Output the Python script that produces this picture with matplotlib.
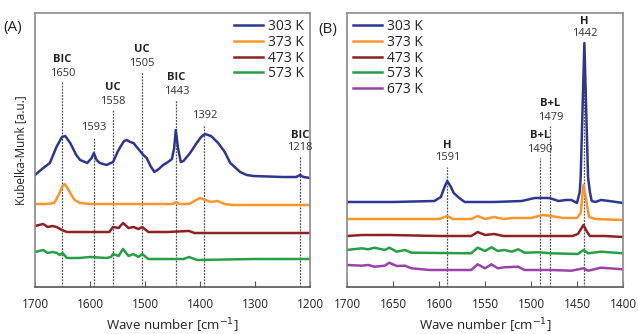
import matplotlib.pyplot as plt

plt.rcParams['font.family'] = ['Open Sans', 'DejaVu Sans']

# ---- panel A: spectra (wave number, Kubelka-Munk, offset per temperature)
a303_x = [1700, 1685, 1673, 1661, 1651, 1645, 1636, 1625, 1618, 1605, 1597, 1593, 1588,
          1582, 1570, 1558, 1550, 1545, 1538, 1533, 1527, 1521, 1512, 1503, 1497, 1490,
          1483, 1475, 1467, 1458, 1451, 1447, 1444, 1440, 1435, 1430, 1418, 1406, 1398,
          1391, 1380, 1367, 1355, 1345, 1335, 1327, 1315, 1303, 1250, 1225, 1218, 1212, 1200]
a303_y = [112, 119, 124, 140, 150, 151, 144, 132, 127, 124, 129, 134, 127,
          124, 122, 125, 135, 140, 146, 147, 145, 144, 138, 132, 129, 121,
          115, 118, 122, 125, 128, 139, 157, 139, 125, 126, 134, 144, 150,
          153, 151, 144, 135, 124, 119, 115, 112, 111, 110, 110, 112, 110, 109]

a373_x = [1700, 1680, 1665, 1657, 1650, 1646, 1641, 1636, 1628, 1618, 1600, 1560, 1500,
          1450, 1443, 1437, 1420, 1410, 1400, 1390, 1380, 1368, 1355, 1340, 1300, 1200]
a373_y = [83, 83, 84, 92, 101, 103, 99, 94, 87, 84, 83, 83, 83,
          83, 85, 83, 83, 86, 89, 87, 85, 86, 83, 82, 82, 82]

a473_x = [1700, 1685, 1677, 1668, 1661, 1651, 1642, 1600, 1565, 1558, 1548, 1540, 1530,
          1521, 1512, 1505, 1494, 1460, 1420, 1410, 1200]
a473_y = [61, 63, 60, 61, 60, 57, 55, 55, 55, 60, 59, 64, 59,
          60, 58, 60, 55, 55, 56, 54, 54]

a573_x = [1700, 1685, 1677, 1668, 1660, 1655, 1650, 1642, 1620, 1600, 1570, 1562, 1558,
          1548, 1540, 1530, 1521, 1512, 1505, 1494, 1460, 1430, 1420, 1405, 1300, 1200]
a573_y = [35, 37, 34, 35, 34, 32, 34, 29, 29, 30, 29, 30, 33,
          31, 38, 31, 33, 30, 33, 28, 28, 28, 30, 27, 28, 28]

# band markers in A: position, bold tag, top of marker line
a_bands = [1650, 1593, 1558, 1505, 1443, 1392, 1218]
a_tags = ['BIC', '', 'UC', 'UC', 'BIC', '', 'BIC']
a_tops = [205, 150, 177, 215, 187, 162, 130]

# ---- panel B
b303_x = [1700, 1650, 1605, 1598, 1594, 1591, 1587, 1584, 1578, 1572, 1540, 1510, 1496,
          1480, 1470, 1462, 1456, 1450, 1447, 1446, 1444, 1442, 1440, 1438, 1436, 1434,
          1430, 1424, 1415, 1400]
b303_y = [85, 85, 86, 90, 100, 106, 100, 94, 89, 85, 85, 86, 89,
          89, 86, 87, 87, 84, 95, 110, 177, 244, 177, 110, 95, 86,
          85, 87, 86, 84]

b373_x = [1700, 1650, 1600, 1591, 1585, 1565, 1558, 1550, 1540, 1530, 1520, 1500, 1487,
          1478, 1465, 1450, 1446, 1443, 1440, 1437, 1430, 1400]
b373_y = [68, 68, 68, 71, 68, 68, 71, 68, 70, 68, 69, 69, 72,
          71, 69, 69, 74, 102, 87, 70, 68, 67]

b473_x = [1700, 1684, 1654, 1600, 1565, 1558, 1550, 1540, 1530, 1500, 1455, 1449, 1443,
          1439, 1436, 1420, 1400]
b473_y = [51, 52, 52, 51, 51, 55, 52, 53, 51, 51, 51, 53, 62,
          55, 51, 51, 50]

b573_x = [1700, 1684, 1677, 1670, 1659, 1654, 1646, 1637, 1630, 1565, 1558, 1550, 1543,
          1536, 1529, 1521, 1514, 1507, 1492, 1478, 1449, 1443, 1438, 1424, 1400]
b573_y = [37, 38.7, 37.7, 39.3, 37, 39.3, 35.3, 37, 34.3, 33.7, 39.3, 36, 39.7,
          36, 37, 35.3, 37.7, 34.3, 34.7, 33.7, 33, 37, 33.7, 35.3, 33.7]

b673_x = [1700, 1684, 1677, 1670, 1659, 1654, 1646, 1637, 1630, 1610, 1565, 1558, 1550,
          1543, 1536, 1529, 1514, 1507, 1478, 1456, 1443, 1438, 1424, 1400]
b673_y = [22, 21.3, 22, 20.3, 21.3, 24.3, 21, 21.3, 18.7, 17, 17, 22.7, 18.7,
          22.7, 18.7, 19.7, 20.3, 17, 17, 16.3, 18.7, 16.3, 19.3, 17.7]

b_bands = [1591, 1490, 1479, 1442]
b_tags = ['H', 'B+L', 'B+L', 'H']
b_tops = [120, 129, 161, 244]

colors = {'303 K': '#2e3790', '373 K': '#f7962d', '473 K': '#8c2323',
          '573 K': '#27a045', '673 K': '#9a42a6'}

fig = plt.figure(figsize=(6.38, 3.34), dpi=100)
axA = fig.add_axes([35 / 638, 47 / 334, 275 / 638, 274 / 334])
axB = fig.add_axes([347 / 638, 47 / 334, 276 / 638, 274 / 334])


def style(ax, xmin, xmax, step):
    ax.set_xlim(xmax, xmin)
    ax.set_ylim(0, 274)
    ax.set_xticks(range(xmin, xmax + 1, step))
    ax.set_yticks([])
    for s in ax.spines.values():
        s.set_color('#8a8a8a')
        s.set_linewidth(1.2)
    ax.spines['bottom'].set_color('#555555')
    ax.tick_params(axis='x', direction='in', length=4, color='#555555',
                   labelsize=8.5, pad=8, labelcolor='#222222')
    ax.set_xlabel('Wave number [cm$^{-1}$]', fontsize=9.5, color='#222222', labelpad=4)


def bands(ax, pos, tags, tops):
    for p, t, top in zip(pos, tags, tops):
        ax.plot([p, p], [0, top], color='#505050', lw=0.9, ls=(0, (1.5, 1)), zorder=1)
        ax.text(p, top + 9, str(p), ha='center', va='center', fontsize=8, color='#333333')
        if t:
            ax.text(p, top + 22, t, ha='center', va='center', fontsize=8,
                    fontweight='bold', color='#222222')


style(axA, 1200, 1700, 100)
bands(axA, a_bands, a_tags, a_tops)
for lab, xs, ys in [('303 K', a303_x, a303_y), ('373 K', a373_x, a373_y),
                    ('473 K', a473_x, a473_y), ('573 K', a573_x, a573_y)]:
    axA.plot(xs, ys, color=colors[lab], lw=1.8, label=lab, zorder=2)
axA.set_ylabel('Kubelka-Munk [a.u.]', fontsize=8.5, color='#222222', labelpad=6)
axA.legend(loc='upper right', bbox_to_anchor=(1.0, 1.0), frameon=False, fontsize=10,
           handlelength=2.1, handletextpad=0.35, labelspacing=0.05, borderaxespad=0.05,
           labelcolor='#222222')

style(axB, 1400, 1700, 50)
bands(axB, b_bands, b_tags, b_tops)
for lab, xs, ys in [('303 K', b303_x, b303_y), ('373 K', b373_x, b373_y),
                    ('473 K', b473_x, b473_y), ('573 K', b573_x, b573_y),
                    ('673 K', b673_x, b673_y)]:
    axB.plot(xs, ys, color=colors[lab], lw=1.8, label=lab, zorder=2)
axB.legend(loc='upper left', bbox_to_anchor=(0.0, 1.0), frameon=False, fontsize=10,
           handlelength=2.1, handletextpad=0.35, labelspacing=0.05, borderaxespad=0.05,
           labelcolor='#222222')

fig.text(3 / 638, 1 - 28 / 334, '(A)', fontsize=11, va='center', color='#222222')
fig.text(318 / 638, 1 - 29 / 334, '(B)', fontsize=11, va='center', color='#222222')

fig.savefig('out.png', dpi=100)
